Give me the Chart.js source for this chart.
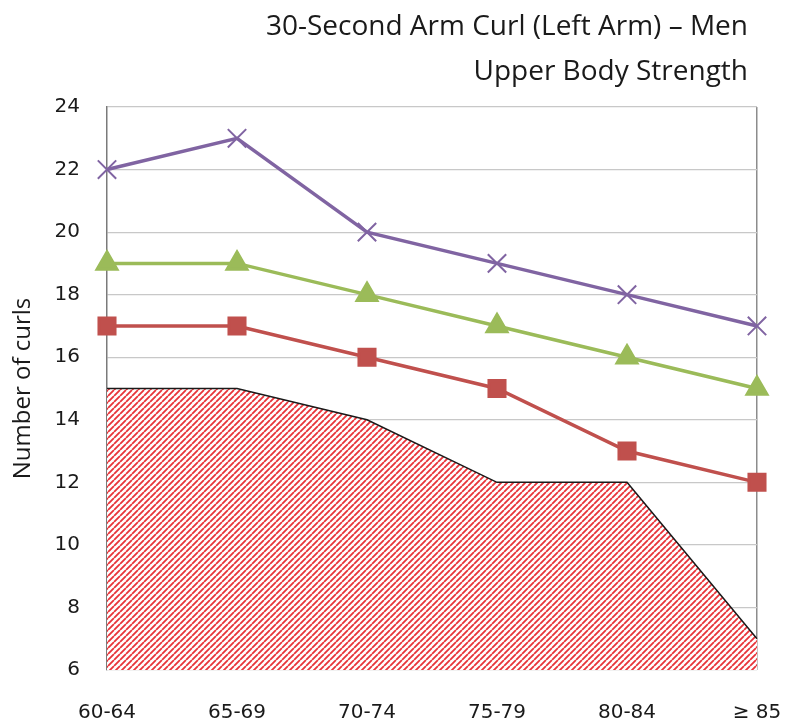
<!DOCTYPE html>
<html><head><meta charset="utf-8">
<script src="https://cdn.jsdelivr.net/npm/chart.js@4.4.0/dist/chart.umd.min.js"></script>
<style>html,body{margin:0;padding:0;background:#fff}#wrap{width:785px;height:727px}</style>
</head><body><div id="wrap"><canvas id="c" width="785" height="727"></canvas></div>
<script>
const categories = ['60-64','65-69','70-74','75-79','80-84','≥ 85'];
const belowAverage = [15,15,14,12,12,7];
const average = [17,17,16,15,13,12];
const aboveAverage = [19,19,18,17,16,15];
const excellent = [22,23,20,19,18,17];
const yTicks = [6,8,10,12,14,16,18,20,22,24];
const titleLines = ['30-Second Arm Curl (Left Arm) – Men','Upper Body Strength'];

function hatch(){
  const p = document.createElement('canvas');
  const s = 6; p.width = s; p.height = s;
  const g = p.getContext('2d');
  g.fillStyle = '#ffffff'; g.fillRect(0,0,s,s);
  g.strokeStyle = '#e8343a'; g.lineWidth = 1.8;
  g.beginPath();
  for (let k=-1;k<=1;k++){ g.moveTo(k*s, s); g.lineTo(k*s + s, 0); }
  g.stroke();
  return g.createPattern(p,'repeat');
}
const titlePlugin = {
  id:'rightTitle',
  afterDraw(chart){
    const c = chart.ctx;
    c.save();
    c.font = '28px "Open Sans"';
    c.fillStyle = '#1a1a1a';
    c.textAlign = 'right';
    c.textBaseline = 'middle';
    c.fillText(titleLines[0], 748, 27);
    c.fillText(titleLines[1], 748, 72);
    c.restore();
  }
};
const ctx = document.getElementById('c').getContext('2d');
new Chart(ctx, {
  type:'line',
  data:{labels:categories, datasets:[
    {data:belowAverage, borderColor:'#1a1a1a', borderWidth:1.5, backgroundColor:hatch(), fill:'origin', pointRadius:0, tension:0, order:4},
    {data:average, borderColor:'#c0504d', backgroundColor:'#c0504d', borderWidth:3.5, pointStyle:'rect', pointRadius:11, pointHoverRadius:11, order:3},
    {data:aboveAverage, borderColor:'#9bbb59', backgroundColor:'#9bbb59', borderWidth:3.5, pointStyle:'triangle', pointRadius:11, pointHoverRadius:11, order:2},
    {data:excellent, borderColor:'#8064a2', backgroundColor:'#8064a2', borderWidth:3.5, pointStyle:'crossRot', pointRadius:13, pointHoverRadius:13, pointBorderWidth:2, order:1}
  ]},
  plugins:[titlePlugin],
  options:{
    responsive:false, animation:false, devicePixelRatio:1,
    layout:{padding:{left:0,right:28,top:107,bottom:0}},
    plugins:{ legend:{display:false}, tooltip:{enabled:false}, title:{display:false} },
    scales:{
      x:{type:'category', offset:false,
        grid:{color:(c)=> (c.index===categories.length-1)?'#8c8c8c':'rgba(0,0,0,0)', tickLength:0, lineWidth:1.5},
        border:{display:false},
        ticks:{color:'#1a1a1a', font:{family:'DejaVu Sans', size:20}, padding:31, maxRotation:0, autoSkip:false},
        afterFit:(s)=>{s.height=57; s.paddingLeft=0; s.paddingRight=0;}
      },
      y:{min:6, max:24,
        afterBuildTicks:(s)=>{s.ticks = yTicks.map(v=>({value:v}));},
        grid:{color:'#c8c8c8', lineWidth:1.2, tickLength:0},
        border:{color:'#7a7a7a', width:1.5},
        ticks:{color:'#1a1a1a', font:{family:'DejaVu Sans', size:20}, padding:27},
        title:{display:true, text:'Number of curls', color:'#1a1a1a', font:{family:'Open Sans', size:24}, padding:{top:9,bottom:0}},
        afterFit:(s)=>{s.width=107; s.paddingTop=0; s.paddingBottom=0;}
      }
    }
  }
});
</script></body></html>
